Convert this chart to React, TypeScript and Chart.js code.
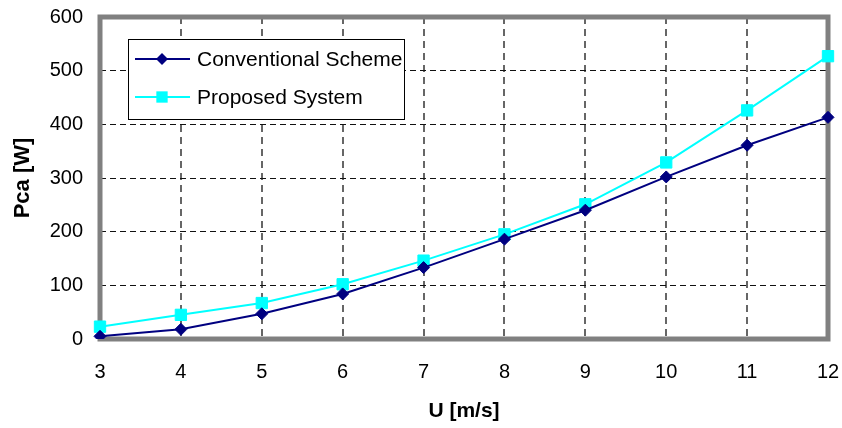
import React, { useEffect, useRef } from "react";
import { Chart, registerables } from "chart.js";

Chart.register(...registerables);

const windSpeeds = ["3", "4", "5", "6", "7", "8", "9", "10", "11", "12"];
const conventionalScheme = [5, 18, 47, 84, 133, 186, 240, 302, 361, 413];
const proposedSystem = [23, 45, 67, 102, 146, 195, 251, 329, 426, 527];
const yTicks = [0, 100, 200, 300, 400, 500, 600];

const FONT = "'Liberation Sans', Arial, sans-serif";

const frameAndLegend = {
  id: "frameAndLegend",
  beforeDatasetsDraw(chart: any) {
    const { ctx, chartArea } = chart;
    ctx.save();
    ctx.strokeStyle = "#808080";
    ctx.lineWidth = 5;
    ctx.strokeRect(
      chartArea.left,
      chartArea.top,
      chartArea.right - chartArea.left,
      chartArea.bottom - chartArea.top
    );
    const bx = chartArea.left + 28;
    const by = chartArea.top + 22;
    const bw = 276;
    const bh = 80;
    ctx.fillStyle = "#ffffff";
    ctx.fillRect(bx, by, bw, bh);
    ctx.strokeStyle = "#000000";
    ctx.lineWidth = 1;
    ctx.strokeRect(bx + 0.5, by + 0.5, bw, bh);
    ctx.restore();
  },
  afterDatasetsDraw(chart: any) {
    const { ctx, chartArea } = chart;
    const bx = chartArea.left + 28;
    const by = chartArea.top + 22;
    ctx.save();
    chart.data.datasets.forEach((ds: any, i: number) => {
      const y = by + 20 + i * 38;
      ctx.strokeStyle = ds.borderColor;
      ctx.lineWidth = 2;
      ctx.beginPath();
      ctx.moveTo(bx + 7, y);
      ctx.lineTo(bx + 62, y);
      ctx.stroke();
      ctx.fillStyle = ds.pointBackgroundColor;
      const cx = bx + 34;
      if (ds.pointStyle === "rectRot") {
        const r = ds.pointRadius;
        ctx.beginPath();
        ctx.moveTo(cx, y - r);
        ctx.lineTo(cx + r, y);
        ctx.lineTo(cx, y + r);
        ctx.lineTo(cx - r, y);
        ctx.closePath();
        ctx.fill();
      } else {
        const h = ds.pointRadius * Math.SQRT1_2;
        ctx.fillRect(cx - h, y - h, 2 * h, 2 * h);
      }
      ctx.fillStyle = "#000000";
      ctx.font = `21px ${FONT}`;
      ctx.textBaseline = "middle";
      ctx.textAlign = "left";
      ctx.fillText(ds.label, bx + 69, y + 1);
    });
    ctx.restore();
  },
};

function zeroPadding(scale: any) {
  scale.paddingTop = 0;
  scale.paddingBottom = 0;
  scale.paddingLeft = 0;
  scale.paddingRight = 0;
}

export default function App() {
  const canvasRef = useRef<HTMLCanvasElement | null>(null);

  useEffect(() => {
    document.body.style.margin = "0";
    const canvas = canvasRef.current;
    if (!canvas) return;
    const chart = new Chart(canvas, {
      type: "line",
      data: {
        labels: windSpeeds,
        datasets: [
          {
            label: "Conventional Scheme",
            data: conventionalScheme,
            borderColor: "#000080",
            backgroundColor: "#000080",
            pointBackgroundColor: "#000080",
            pointBorderColor: "#000080",
            pointStyle: "rectRot",
            pointRadius: 6,
            pointBorderWidth: 1,
            borderWidth: 2,
            tension: 0,
          },
          {
            label: "Proposed System",
            data: proposedSystem,
            borderColor: "#00FFFF",
            backgroundColor: "#00FFFF",
            pointBackgroundColor: "#00FFFF",
            pointBorderColor: "#00FFFF",
            pointStyle: "rect",
            pointRadius: 8,
            pointBorderWidth: 1,
            borderWidth: 2,
            tension: 0,
          },
        ],
      },
      options: {
        responsive: false,
        animation: false,
        layout: { padding: { top: 17, right: 14, left: 0, bottom: 0 } },
        plugins: {
          legend: { display: false },
          tooltip: { enabled: false },
        },
        scales: {
          x: {
            type: "category",
            offset: false,
            grid: {
              color: "#666666",
              lineWidth: 2,
              drawTicks: false,
            },
            border: { display: false, dash: [7, 5] },
            ticks: {
              color: "#000000",
              font: { family: FONT, size: 20 },
              padding: 21,
              maxRotation: 0,
            },
            title: {
              display: true,
              text: "U [m/s]",
              color: "#000000",
              font: { family: FONT, size: 21, weight: "bold" },
              padding: { top: 0, bottom: 4 },
            },
            afterFit(scale: any) {
              scale.height = 89;
              zeroPadding(scale);
            },
          },
          y: {
            min: 0,
            max: 600,
            grid: {
              color: "#111111",
              lineWidth: 1,
              drawTicks: false,
            },
            border: { display: false, dash: [6, 4] },
            afterBuildTicks(scale: any) {
              scale.ticks = yTicks.map((v) => ({ value: v }));
            },
            ticks: {
              color: "#000000",
              font: { family: FONT, size: 20 },
              padding: 17,
            },
            title: {
              display: true,
              text: "Pca [W]",
              color: "#000000",
              font: { family: FONT, size: 22, weight: "bold" },
              padding: { top: 10, bottom: 0 },
            },
            afterFit(scale: any) {
              scale.width = 100;
              zeroPadding(scale);
            },
          },
        },
      },
      plugins: [frameAndLegend],
    });
    return () => chart.destroy();
  }, []);

  return (
    <div style={{ width: 842, height: 428 }}>
      <canvas ref={canvasRef} width={842} height={428} />
    </div>
  );
}
